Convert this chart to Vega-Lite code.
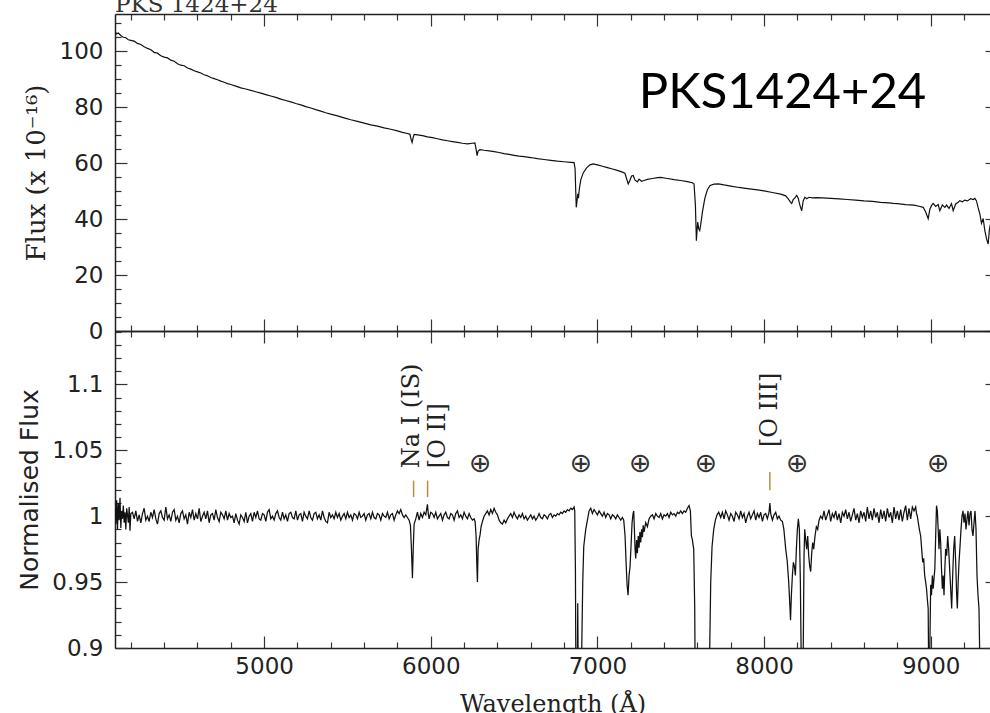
{
"$schema": "https://vega.github.io/schema/vega-lite/v6.json",
"padding": {"left": 17, "top": -6, "right": 0, "bottom": 0},
"autosize": {"type": "pad"},
"spacing": 0,
"bounds": "flush",
"background": "white",
"config": {
  "view": {"stroke": null},
  "concat": {"spacing": 0},
  "axis": {"grid": false, "domainColor": "#222", "domainWidth": 1.5, "tickColor": "#333", "tickWidth": 1.2, "labelFont": "DejaVu Sans", "labelFontSize": 23, "labelColor": "#222", "titleFont": "DejaVu Serif", "titleFontSize": 23, "titleFontWeight": "normal", "titleColor": "#222", "labelFlush": false, "labelOverlap": false, "labelBound": false}
},
"datasets": {
  "top": [
{"w":4105,"f":107.0},{"w":4115,"f":106.2},{"w":4125,"f":106.5},{"w":4140,"f":105.6},{"w":4155,"f":105.0},{"w":4170,"f":104.8},{"w":4185,"f":104.1},{"w":4200,"f":103.9},{"w":4220,"f":103.6},{"w":4240,"f":102.8},{"w":4260,"f":102.4},{"w":4280,"f":101.6},{"w":4300,"f":101.0},{"w":4320,"f":100.5},{"w":4340,"f":99.6},{"w":4360,"f":99.3},{"w":4380,"f":98.4},{"w":4400,"f":97.9},{"w":4420,"f":97.6},{"w":4440,"f":96.8},{"w":4460,"f":96.4},{"w":4480,"f":95.5},{"w":4500,"f":95.0},{"w":4520,"f":94.8},{"w":4540,"f":94.0},{"w":4560,"f":93.6},{"w":4580,"f":93.0},{"w":4600,"f":92.6},{"w":4620,"f":92.2},{"w":4640,"f":91.6},{"w":4660,"f":91.2},{"w":4680,"f":90.6},{"w":4700,"f":90.2},{"w":4720,"f":89.8},{"w":4740,"f":89.3},{"w":4760,"f":88.9},{"w":4780,"f":88.4},{"w":4800,"f":88.1},{"w":4830,"f":87.5},{"w":4860,"f":86.9},{"w":4890,"f":86.5},{"w":4920,"f":86.0},{"w":4950,"f":85.5},{"w":4980,"f":85.0},{"w":5010,"f":84.5},{"w":5040,"f":84.0},{"w":5070,"f":83.5},{"w":5100,"f":82.9},{"w":5130,"f":82.4},{"w":5160,"f":81.9},{"w":5190,"f":81.3},{"w":5220,"f":80.8},{"w":5250,"f":80.2},{"w":5280,"f":79.7},{"w":5310,"f":79.1},{"w":5340,"f":78.6},{"w":5370,"f":78.0},{"w":5400,"f":77.5},{"w":5440,"f":76.9},{"w":5480,"f":76.2},{"w":5520,"f":75.5},{"w":5560,"f":74.9},{"w":5600,"f":74.3},{"w":5640,"f":73.7},{"w":5680,"f":73.2},{"w":5720,"f":72.6},{"w":5760,"f":72.1},{"w":5800,"f":71.5},{"w":5830,"f":71.0},{"w":5860,"f":70.6},{"w":5875,"f":70.3},{"w":5882,"f":68.5},{"w":5888,"f":67.4},{"w":5894,"f":69.0},{"w":5900,"f":70.3},{"w":5920,"f":70.1},{"w":5950,"f":69.8},{"w":5980,"f":69.4},{"w":6010,"f":69.1},{"w":6040,"f":68.7},{"w":6070,"f":68.3},{"w":6100,"f":68.0},{"w":6130,"f":67.7},{"w":6160,"f":67.4},{"w":6190,"f":67.1},{"w":6220,"f":66.9},{"w":6250,"f":67.1},{"w":6265,"f":67.2},{"w":6272,"f":65.0},{"w":6278,"f":62.7},{"w":6284,"f":64.3},{"w":6295,"f":64.8},{"w":6320,"f":64.6},{"w":6350,"f":64.4},{"w":6380,"f":64.1},{"w":6410,"f":63.8},{"w":6440,"f":63.4},{"w":6470,"f":63.1},{"w":6500,"f":62.8},{"w":6530,"f":62.5},{"w":6560,"f":62.3},{"w":6600,"f":62.0},{"w":6640,"f":61.6},{"w":6680,"f":61.3},{"w":6720,"f":61.0},{"w":6760,"f":60.7},{"w":6800,"f":60.5},{"w":6840,"f":60.3},{"w":6860,"f":60.2},{"w":6866,"f":58.0},{"w":6870,"f":50.0},{"w":6873,"f":44.2},{"w":6877,"f":46.0},{"w":6882,"f":49.0},{"w":6886,"f":47.5},{"w":6892,"f":51.0},{"w":6900,"f":54.0},{"w":6915,"f":56.5},{"w":6935,"f":58.3},{"w":6955,"f":59.4},{"w":6975,"f":59.7},{"w":7000,"f":59.4},{"w":7030,"f":58.9},{"w":7060,"f":58.4},{"w":7090,"f":57.9},{"w":7120,"f":57.4},{"w":7150,"f":56.8},{"w":7165,"f":56.4},{"w":7175,"f":54.5},{"w":7185,"f":52.6},{"w":7195,"f":53.8},{"w":7205,"f":55.4},{"w":7215,"f":55.6},{"w":7225,"f":54.0},{"w":7240,"f":53.3},{"w":7250,"f":54.3},{"w":7265,"f":53.5},{"w":7280,"f":53.8},{"w":7300,"f":54.2},{"w":7330,"f":54.5},{"w":7360,"f":54.8},{"w":7380,"f":54.9},{"w":7420,"f":54.5},{"w":7460,"f":54.1},{"w":7500,"f":53.8},{"w":7540,"f":53.4},{"w":7570,"f":53.0},{"w":7580,"f":52.5},{"w":7588,"f":45.0},{"w":7594,"f":32.3},{"w":7598,"f":36.0},{"w":7602,"f":38.9},{"w":7608,"f":36.5},{"w":7614,"f":35.9},{"w":7620,"f":38.0},{"w":7630,"f":42.5},{"w":7645,"f":47.5},{"w":7660,"f":50.5},{"w":7676,"f":52.0},{"w":7700,"f":52.5},{"w":7726,"f":52.6},{"w":7760,"f":52.2},{"w":7800,"f":51.8},{"w":7850,"f":51.3},{"w":7900,"f":50.9},{"w":7950,"f":50.5},{"w":8000,"f":50.1},{"w":8050,"f":49.5},{"w":8100,"f":48.9},{"w":8130,"f":48.3},{"w":8145,"f":47.2},{"w":8160,"f":46.0},{"w":8166,"f":45.6},{"w":8175,"f":47.0},{"w":8185,"f":47.6},{"w":8196,"f":48.5},{"w":8205,"f":47.5},{"w":8215,"f":45.0},{"w":8226,"f":43.0},{"w":8235,"f":46.5},{"w":8245,"f":47.8},{"w":8256,"f":47.3},{"w":8270,"f":47.8},{"w":8290,"f":47.6},{"w":8316,"f":47.7},{"w":8350,"f":47.6},{"w":8400,"f":47.4},{"w":8450,"f":47.2},{"w":8500,"f":47.0},{"w":8550,"f":46.8},{"w":8600,"f":46.5},{"w":8650,"f":46.3},{"w":8700,"f":46.0},{"w":8750,"f":45.8},{"w":8776,"f":45.6},{"w":8800,"f":45.5},{"w":8850,"f":45.2},{"w":8900,"f":45.0},{"w":8930,"f":44.6},{"w":8955,"f":44.2},{"w":8970,"f":42.5},{"w":8985,"f":40.1},{"w":8995,"f":43.5},{"w":9005,"f":44.8},{"w":9015,"f":45.6},{"w":9030,"f":44.5},{"w":9045,"f":45.2},{"w":9055,"f":43.0},{"w":9070,"f":45.0},{"w":9085,"f":44.2},{"w":9095,"f":45.0},{"w":9110,"f":43.8},{"w":9125,"f":45.5},{"w":9135,"f":43.0},{"w":9150,"f":45.4},{"w":9165,"f":46.0},{"w":9175,"f":46.6},{"w":9190,"f":46.2},{"w":9205,"f":46.8},{"w":9220,"f":46.5},{"w":9240,"f":47.3},{"w":9255,"f":47.0},{"w":9265,"f":47.4},{"w":9275,"f":46.5},{"w":9285,"f":44.0},{"w":9295,"f":41.9},{"w":9305,"f":38.5},{"w":9315,"f":40.2},{"w":9325,"f":35.9},{"w":9335,"f":33.0},{"w":9345,"f":31.1},{"w":9352,"f":36.0},{"w":9358,"f":38.0}
  ],
  "bot": [
{"w":4105,"n":1.006},{"w":4110,"n":0.994},{"w":4115,"n":1.012},{"w":4120,"n":0.99},{"w":4125,"n":1.01},{"w":4130,"n":0.997},{"w":4135,"n":1.014},{"w":4140,"n":0.991},{"w":4145,"n":1.004},{"w":4150,"n":0.998},{"w":4155,"n":1.008},{"w":4160,"n":0.995},{"w":4165,"n":1.003},{"w":4170,"n":0.99},{"w":4175,"n":1.006},{"w":4180,"n":1.001},{"w":4185,"n":0.995},{"w":4190,"n":1.007},{"w":4195,"n":0.989},{"w":4200,"n":1.002},
{"w":4210,"n":1.003},{"w":4220,"n":0.998},{"w":4230,"n":1.004},{"w":4240,"n":0.996},{"w":4250,"n":1.001},{"w":4260,"n":0.995},{"w":4270,"n":1.002},{"w":4280,"n":1.006},{"w":4290,"n":0.997},{"w":4300,"n":1.0},{"w":4310,"n":0.996},{"w":4320,"n":1.003},{"w":4330,"n":0.999},{"w":4340,"n":1.005},{"w":4350,"n":0.998},{"w":4360,"n":0.994},{"w":4370,"n":1.002},{"w":4380,"n":1.004},{"w":4390,"n":0.999},{"w":4400,"n":0.997},{"w":4410,"n":1.007},{"w":4420,"n":0.998},{"w":4430,"n":1.001},{"w":4440,"n":0.996},{"w":4450,"n":1.003},{"w":4460,"n":1.005},{"w":4470,"n":0.997},{"w":4480,"n":1.0},{"w":4490,"n":0.995},{"w":4500,"n":1.002},{"w":4510,"n":1.004},{"w":4520,"n":0.998},{"w":4530,"n":1.001},{"w":4540,"n":0.994},{"w":4550,"n":1.003},{"w":4560,"n":0.999},{"w":4570,"n":1.005},{"w":4580,"n":0.997},{"w":4590,"n":1.002},{"w":4600,"n":0.998},{"w":4610,"n":1.006},{"w":4620,"n":0.996},{"w":4630,"n":1.0},{"w":4640,"n":1.003},{"w":4650,"n":0.998},{"w":4660,"n":1.004},{"w":4670,"n":0.995},{"w":4680,"n":1.001},{"w":4690,"n":1.002},{"w":4700,"n":0.997},{"w":4710,"n":1.005},{"w":4720,"n":0.999},{"w":4730,"n":0.996},{"w":4740,"n":1.003},{"w":4750,"n":1.001},{"w":4760,"n":0.998},{"w":4770,"n":1.004},{"w":4780,"n":0.997},{"w":4790,"n":1.002},{"w":4800,"n":0.999},
{"w":4810,"n":1.0},{"w":4820,"n":0.995},{"w":4830,"n":1.002},{"w":4840,"n":0.997},{"w":4850,"n":0.994},{"w":4860,"n":1.001},{"w":4870,"n":0.999},{"w":4880,"n":0.996},{"w":4890,"n":1.003},{"w":4900,"n":0.995},{"w":4910,"n":1.0},{"w":4920,"n":1.002},{"w":4930,"n":0.996},{"w":4940,"n":1.003},{"w":4950,"n":0.999},{"w":4960,"n":1.004},{"w":4970,"n":0.998},{"w":4980,"n":0.997},{"w":4990,"n":1.002},{"w":5000,"n":1.001},{"w":5010,"n":0.996},{"w":5020,"n":1.003},{"w":5030,"n":1.005},{"w":5040,"n":0.998},{"w":5050,"n":1.0},{"w":5060,"n":0.997},{"w":5070,"n":1.002},{"w":5080,"n":1.004},{"w":5090,"n":0.999},{"w":5100,"n":0.997},{"w":5110,"n":1.003},{"w":5120,"n":0.998},{"w":5130,"n":1.001},{"w":5140,"n":0.996},{"w":5150,"n":1.002},{"w":5160,"n":1.003},{"w":5170,"n":0.999},{"w":5180,"n":0.998},{"w":5190,"n":1.004},{"w":5200,"n":0.997},{"w":5210,"n":1.001},{"w":5220,"n":1.002},{"w":5230,"n":0.996},{"w":5240,"n":1.003},{"w":5250,"n":1.0},{"w":5260,"n":0.998},{"w":5270,"n":1.004},{"w":5280,"n":0.999},{"w":5290,"n":0.997},{"w":5300,"n":1.002},{"w":5310,"n":1.003},{"w":5320,"n":0.998},{"w":5330,"n":1.001},{"w":5340,"n":0.997},{"w":5350,"n":1.004},{"w":5360,"n":0.999},{"w":5370,"n":0.996},{"w":5380,"n":0.995},{"w":5390,"n":1.003},{"w":5400,"n":0.999},
{"w":5410,"n":1.001},{"w":5420,"n":0.998},{"w":5430,"n":1.003},{"w":5440,"n":0.999},{"w":5450,"n":1.002},{"w":5460,"n":0.997},{"w":5470,"n":1.0},{"w":5480,"n":1.002},{"w":5490,"n":0.998},{"w":5500,"n":1.003},{"w":5510,"n":0.999},{"w":5520,"n":1.001},{"w":5530,"n":0.997},{"w":5540,"n":1.002},{"w":5550,"n":1.001},{"w":5560,"n":0.998},{"w":5570,"n":1.003},{"w":5580,"n":0.999},{"w":5590,"n":1.0},{"w":5600,"n":1.002},{"w":5610,"n":0.997},{"w":5620,"n":1.001},{"w":5630,"n":1.002},{"w":5640,"n":0.998},{"w":5650,"n":1.003},{"w":5660,"n":0.999},{"w":5670,"n":0.998},{"w":5680,"n":1.002},{"w":5690,"n":1.001},{"w":5700,"n":0.997},{"w":5710,"n":1.002},{"w":5720,"n":1.0},{"w":5730,"n":0.999},{"w":5740,"n":1.003},{"w":5750,"n":0.998},{"w":5760,"n":1.001},{"w":5770,"n":1.002},{"w":5780,"n":0.997},{"w":5790,"n":1.001},{"w":5800,"n":1.004},{"w":5810,"n":1.002},{"w":5820,"n":1.005},{"w":5830,"n":1.001},{"w":5840,"n":0.999},{"w":5850,"n":1.001},
{"w":5860,"n":0.999},{"w":5870,"n":0.997},{"w":5878,"n":0.993},{"w":5884,"n":0.975},{"w":5890,"n":0.953},{"w":5895,"n":0.976},{"w":5900,"n":0.994},{"w":5910,"n":0.998},{"w":5920,"n":1.003},{"w":5930,"n":0.997},{"w":5940,"n":1.002},{"w":5950,"n":0.999},{"w":5960,"n":1.003},{"w":5970,"n":1.001},{"w":5980,"n":1.009},{"w":5985,"n":1.002},{"w":5990,"n":0.998},{"w":6000,"n":1.003},
{"w":6010,"n":1.002},{"w":6020,"n":0.999},{"w":6030,"n":1.003},{"w":6040,"n":0.998},{"w":6050,"n":1.0},{"w":6060,"n":1.002},{"w":6070,"n":0.997},{"w":6080,"n":1.001},{"w":6090,"n":1.003},{"w":6100,"n":0.999},{"w":6110,"n":0.998},{"w":6120,"n":1.002},{"w":6130,"n":1.001},{"w":6140,"n":0.997},{"w":6150,"n":1.002},{"w":6160,"n":1.004},{"w":6170,"n":0.999},{"w":6180,"n":1.001},{"w":6190,"n":0.998},{"w":6200,"n":1.003},{"w":6210,"n":1.0},{"w":6220,"n":0.998},{"w":6230,"n":1.002},{"w":6240,"n":0.999},{"w":6250,"n":0.997},{"w":6260,"n":0.998},
{"w":6266,"n":0.996},{"w":6272,"n":0.985},{"w":6276,"n":0.965},{"w":6280,"n":0.95},{"w":6284,"n":0.975},{"w":6290,"n":0.982},{"w":6296,"n":0.986},{"w":6302,"n":0.992},{"w":6310,"n":0.996},{"w":6320,"n":1.0},
{"w":6330,"n":1.002},{"w":6340,"n":1.004},{"w":6350,"n":1.001},{"w":6360,"n":1.005},{"w":6370,"n":1.002},{"w":6380,"n":1.006},{"w":6390,"n":1.003},{"w":6400,"n":1.001},{"w":6410,"n":0.997},{"w":6420,"n":0.995},{"w":6430,"n":0.994},{"w":6440,"n":0.997},{"w":6450,"n":0.995},{"w":6460,"n":0.998},{"w":6470,"n":1.0},{"w":6480,"n":1.002},{"w":6490,"n":0.999},{"w":6500,"n":1.003},{"w":6510,"n":1.0},{"w":6520,"n":0.998},{"w":6530,"n":1.001},{"w":6540,"n":0.999},{"w":6550,"n":1.002},{"w":6560,"n":0.998},{"w":6570,"n":1.0},{"w":6580,"n":0.997},{"w":6590,"n":0.999},{"w":6600,"n":1.001},{"w":6610,"n":0.998},{"w":6620,"n":1.0},{"w":6630,"n":0.997},{"w":6640,"n":0.999},{"w":6650,"n":1.002},{"w":6660,"n":0.999},{"w":6670,"n":0.998},{"w":6680,"n":1.001},{"w":6690,"n":1.0},{"w":6700,"n":0.998},{"w":6710,"n":1.001},{"w":6720,"n":1.002},{"w":6730,"n":0.999},{"w":6740,"n":1.001},{"w":6750,"n":1.0},{"w":6760,"n":1.002},{"w":6770,"n":1.001},{"w":6780,"n":1.003},{"w":6790,"n":1.002},{"w":6800,"n":1.004},{"w":6810,"n":1.003},{"w":6820,"n":1.005},{"w":6830,"n":1.004},{"w":6840,"n":1.006},{"w":6850,"n":1.005},{"w":6860,"n":1.007},
{"w":6864,"n":1.004},{"w":6868,"n":0.96},{"w":6872,"n":0.85},{"w":6878,"n":0.85},{"w":6882,"n":0.934},{"w":6886,"n":0.86},{"w":6892,"n":0.85},{"w":6900,"n":0.85},{"w":6906,"n":0.9},{"w":6912,"n":0.95},{"w":6918,"n":0.977},{"w":6930,"n":0.99},{"w":6940,"n":0.997},{"w":6950,"n":1.004},{"w":6960,"n":1.006},{"w":6970,"n":1.002},{"w":6980,"n":1.005},
{"w":6990,"n":1.003},{"w":7000,"n":1.001},{"w":7010,"n":1.004},{"w":7020,"n":1.002},{"w":7030,"n":1.0},{"w":7040,"n":1.003},{"w":7050,"n":0.999},{"w":7060,"n":1.002},{"w":7070,"n":1.001},{"w":7080,"n":0.998},{"w":7090,"n":1.001},{"w":7100,"n":1.0},{"w":7110,"n":0.998},{"w":7120,"n":1.001},{"w":7130,"n":0.999},{"w":7140,"n":0.997},{"w":7150,"n":0.999},
{"w":7158,"n":0.997},{"w":7166,"n":0.985},{"w":7172,"n":0.965},{"w":7178,"n":0.948},{"w":7184,"n":0.94},{"w":7190,"n":0.955},{"w":7196,"n":0.962},{"w":7202,"n":0.978},{"w":7208,"n":0.995},{"w":7214,"n":1.002},{"w":7218,"n":1.004},{"w":7222,"n":0.99},{"w":7226,"n":0.975},{"w":7230,"n":0.968},{"w":7235,"n":0.982},{"w":7240,"n":0.972},{"w":7245,"n":0.985},{"w":7250,"n":0.976},{"w":7255,"n":0.988},{"w":7260,"n":0.98},{"w":7265,"n":0.99},{"w":7270,"n":0.984},{"w":7275,"n":0.993},{"w":7280,"n":0.988},{"w":7290,"n":0.995},{"w":7300,"n":0.992},{"w":7310,"n":0.998},{"w":7320,"n":1.0},
{"w":7330,"n":1.001},{"w":7340,"n":0.998},{"w":7350,"n":1.002},{"w":7360,"n":1.0},{"w":7370,"n":0.999},{"w":7380,"n":1.002},{"w":7390,"n":0.998},{"w":7400,"n":1.001},{"w":7410,"n":1.0},{"w":7420,"n":1.002},{"w":7430,"n":0.999},{"w":7440,"n":1.003},{"w":7450,"n":1.001},{"w":7460,"n":1.002},{"w":7470,"n":1.0},{"w":7480,"n":1.003},{"w":7490,"n":1.002},{"w":7500,"n":1.004},{"w":7510,"n":1.002},{"w":7520,"n":1.004},{"w":7530,"n":1.003},{"w":7540,"n":1.006},{"w":7550,"n":1.008},{"w":7558,"n":1.004},
{"w":7564,"n":0.985},{"w":7570,"n":0.982},{"w":7578,"n":0.975},{"w":7584,"n":0.93},{"w":7588,"n":0.85},{"w":7668,"n":0.85},{"w":7674,"n":0.9},{"w":7680,"n":0.95},{"w":7688,"n":0.977},{"w":7698,"n":0.99},{"w":7708,"n":0.997},{"w":7718,"n":1.001},{"w":7728,"n":1.003},
{"w":7740,"n":0.999},{"w":7750,"n":1.003},{"w":7760,"n":0.998},{"w":7770,"n":1.004},{"w":7780,"n":1.001},{"w":7790,"n":0.997},{"w":7800,"n":1.002},{"w":7810,"n":1.0},{"w":7820,"n":0.996},{"w":7830,"n":1.003},{"w":7840,"n":1.001},{"w":7850,"n":0.998},{"w":7860,"n":1.004},{"w":7870,"n":0.999},{"w":7880,"n":1.002},{"w":7890,"n":0.995},{"w":7900,"n":1.0},{"w":7910,"n":1.003},{"w":7920,"n":0.998},{"w":7930,"n":1.001},{"w":7940,"n":1.004},{"w":7950,"n":0.997},{"w":7960,"n":1.002},{"w":7970,"n":0.999},{"w":7980,"n":1.003},{"w":7990,"n":0.996},{"w":8000,"n":1.001},{"w":8010,"n":1.002},{"w":8020,"n":0.998},{"w":8030,"n":1.003},{"w":8035,"n":1.01},{"w":8040,"n":1.002},{"w":8050,"n":0.997},{"w":8060,"n":1.001},{"w":8070,"n":1.003},{"w":8080,"n":0.998},{"w":8090,"n":1.0},{"w":8100,"n":0.997},
{"w":8110,"n":0.996},{"w":8119,"n":0.99},{"w":8130,"n":0.975},{"w":8139,"n":0.966},{"w":8148,"n":0.95},{"w":8154,"n":0.935},{"w":8159,"n":0.921},{"w":8164,"n":0.94},{"w":8170,"n":0.955},{"w":8176,"n":0.965},{"w":8182,"n":0.962},{"w":8188,"n":0.955},{"w":8194,"n":0.975},{"w":8200,"n":0.99},{"w":8206,"n":0.998},{"w":8212,"n":0.99},{"w":8218,"n":0.95},{"w":8224,"n":0.88},{"w":8229,"n":0.85},{"w":8234,"n":0.88},{"w":8240,"n":0.97},{"w":8244,"n":0.99},{"w":8250,"n":0.982},{"w":8256,"n":0.975},{"w":8262,"n":0.985},{"w":8268,"n":0.97},{"w":8274,"n":0.962},{"w":8280,"n":0.958},{"w":8286,"n":0.972},{"w":8292,"n":0.98},{"w":8298,"n":0.975},{"w":8306,"n":0.985},{"w":8314,"n":0.992},{"w":8322,"n":0.99},{"w":8330,"n":0.997},{"w":8340,"n":1.0},
{"w":8350,"n":0.998},{"w":8360,"n":1.004},{"w":8370,"n":0.997},{"w":8380,"n":1.001},{"w":8390,"n":1.005},{"w":8400,"n":0.996},{"w":8410,"n":1.002},{"w":8420,"n":0.999},{"w":8430,"n":1.004},{"w":8440,"n":0.997},{"w":8450,"n":1.002},{"w":8460,"n":0.995},{"w":8470,"n":1.003},{"w":8480,"n":1.0},{"w":8490,"n":1.005},{"w":8500,"n":0.998},{"w":8510,"n":1.003},{"w":8520,"n":0.996},{"w":8530,"n":1.001},{"w":8540,"n":1.006},{"w":8550,"n":0.997},{"w":8560,"n":1.002},{"w":8570,"n":0.995},{"w":8580,"n":1.004},{"w":8590,"n":0.999},{"w":8600,"n":1.003},{"w":8610,"n":0.996},{"w":8620,"n":1.007},{"w":8630,"n":0.998},{"w":8640,"n":1.004},{"w":8650,"n":0.997},{"w":8660,"n":1.006},{"w":8670,"n":0.999},{"w":8680,"n":1.003},{"w":8690,"n":0.995},{"w":8700,"n":1.005},{"w":8710,"n":0.998},{"w":8720,"n":1.004},{"w":8730,"n":0.996},{"w":8740,"n":1.006},{"w":8750,"n":0.999},{"w":8760,"n":1.003},{"w":8770,"n":0.995},{"w":8780,"n":1.007},{"w":8790,"n":0.998},{"w":8800,"n":1.004},{"w":8810,"n":0.997},{"w":8820,"n":1.005},{"w":8830,"n":0.996},{"w":8840,"n":1.003},{"w":8850,"n":1.008},{"w":8860,"n":0.997},{"w":8870,"n":1.006},{"w":8880,"n":0.998},{"w":8890,"n":1.007},{"w":8900,"n":1.004},{"w":8910,"n":1.007},{"w":8915,"n":1.002},
{"w":8920,"n":1.0},{"w":8926,"n":0.995},{"w":8932,"n":0.99},{"w":8940,"n":0.985},{"w":8946,"n":0.975},{"w":8952,"n":0.965},{"w":8958,"n":0.968},{"w":8964,"n":0.955},{"w":8970,"n":0.95},{"w":8975,"n":0.945},{"w":8980,"n":0.937},{"w":8985,"n":0.93},{"w":8990,"n":0.85},{"w":8995,"n":0.9},{"w":9000,"n":0.948},{"w":9005,"n":0.94},{"w":9010,"n":0.955},{"w":9015,"n":0.945},{"w":9020,"n":0.953},{"w":9025,"n":0.96},{"w":9030,"n":0.985},{"w":9035,"n":1.008},{"w":9040,"n":1.004},{"w":9045,"n":0.99},{"w":9050,"n":0.975},{"w":9055,"n":0.99},{"w":9060,"n":0.98},{"w":9065,"n":0.96},{"w":9070,"n":0.945},{"w":9075,"n":0.955},{"w":9080,"n":0.94},{"w":9085,"n":0.96},{"w":9090,"n":0.975},{"w":9096,"n":0.97},{"w":9102,"n":0.985},{"w":9108,"n":0.975},{"w":9114,"n":0.96},{"w":9120,"n":0.945},{"w":9126,"n":0.93},{"w":9132,"n":0.955},{"w":9138,"n":0.975},{"w":9144,"n":0.985},{"w":9150,"n":0.965},{"w":9156,"n":0.94},{"w":9160,"n":0.93},{"w":9165,"n":0.95},{"w":9170,"n":0.965},{"w":9176,"n":0.977},{"w":9182,"n":0.99},{"w":9188,"n":1.0},{"w":9194,"n":1.004},{"w":9200,"n":0.995},{"w":9206,"n":1.002},{"w":9212,"n":0.99},{"w":9218,"n":0.998},{"w":9224,"n":1.004},{"w":9230,"n":0.993},{"w":9236,"n":1.002},{"w":9242,"n":1.004},{"w":9248,"n":0.99},{"w":9254,"n":0.985},{"w":9260,"n":0.995},{"w":9266,"n":1.004},{"w":9272,"n":0.99},{"w":9278,"n":0.955},{"w":9284,"n":0.94},{"w":9290,"n":0.93},{"w":9296,"n":0.88},{"w":9300,"n":0.85},{"w":9356,"n":0.85}
  ],
  "oplus": [{"w":6297,"n":1.0395,"t":"⊕"},{"w":6902,"n":1.0395,"t":"⊕"},{"w":7258,"n":1.0395,"t":"⊕"},{"w":7652,"n":1.0395,"t":"⊕"},{"w":8200,"n":1.0395,"t":"⊕"},{"w":9046,"n":1.0395,"t":"⊕"}],
  "marks": [{"w":5897,"a":1.0145,"b":1.027},{"w":5981,"a":1.0145,"b":1.027},{"w":8035,"a":1.0197,"b":1.0336}],
  "labs": [{"w":5888,"n":1.0364,"t":"Na I (IS)"},{"w":6045,"n":1.0364,"t":"[O II]"},{"w":8036,"n":1.0524,"t":"[O III]"}],
  "name": [{"w":8111,"f":79.8,"t":"PKS1424+24"}]
},
"vconcat": [
  {
    "width": 875, "height": 317,
    "title": {"text": "PKS 1424+24", "anchor": "start", "frame": "group", "offset": -23, "baseline": "alphabetic", "font": "DejaVu Serif", "fontSize": 23, "fontWeight": "normal", "color": "#333"},
    "resolve": {"axis": {"x": "independent", "y": "independent"}},
    "layer": [
      {
        "data": {"name": "top"},
        "mark": {"type": "line", "color": "#111", "strokeWidth": 1.2, "clip": true},
        "encoding": {
          "x": {"field": "w", "type": "quantitative", "scale": {"domain": [4105, 9356], "nice": false, "zero": false},
                "axis": {"orient": "bottom", "title": null, "labels": false, "values": [4200,4400,4600,4800,5000,5200,5400,5600,5800,6000,6200,6400,6600,6800,7000,7200,7400,7600,7800,8000,8200,8400,8600,8800,9000,9200],
                         "tickSize": {"condition": {"test": "datum.value % 1000 === 0", "value": -12}, "value": -6}}},
          "y": {"field": "f", "type": "quantitative", "scale": {"domain": [0, 113.3], "nice": false},
                "axis": {"orient": "left", "title": "Flux (x 10⁻¹⁶)", "titleFontSize": 26, "titlePadding": 10, "labelPadding": 24,
                         "values": [0,5,10,15,20,25,30,35,40,45,50,55,60,65,70,75,80,85,90,95,100,105,110],
                         "labelExpr": "datum.value % 20 === 0 ? toString(datum.value) : ''",
                         "tickSize": {"condition": {"test": "datum.value % 20 === 0", "value": -12}, "value": -6}}}
        }
      },
      {
        "data": {"name": "name"},
        "mark": {"type": "text", "font": "Lato", "fontSize": 49, "color": "#000", "align": "center", "baseline": "alphabetic"},
        "encoding": {
          "x": {"field": "w", "type": "quantitative",
                "axis": {"orient": "top", "title": null, "labels": false, "values": [4200,4400,4600,4800,5000,5200,5400,5600,5800,6000,6200,6400,6600,6800,7000,7200,7400,7600,7800,8000,8200,8400,8600,8800,9000,9200],
                         "tickSize": {"condition": {"test": "datum.value % 1000 === 0", "value": -12}, "value": -6}}},
          "y": {"field": "f", "type": "quantitative",
                "axis": {"orient": "right", "title": null, "labels": false, "domain": false, "values": [0,20,40,60,80,100], "tickSize": -5}},
          "text": {"field": "t"}
        }
      }
    ]
  },
  {
    "width": 875, "height": 317,
    "resolve": {"axis": {"x": "independent", "y": "independent"}},
    "layer": [
      {
        "data": {"name": "bot"},
        "mark": {"type": "line", "color": "#111", "strokeWidth": 1.25, "clip": true},
        "encoding": {
          "x": {"field": "w", "type": "quantitative", "scale": {"domain": [4105, 9356], "nice": false, "zero": false},
                "axis": {"orient": "bottom", "title": "Wavelength (Å)", "titleFontSize": 24, "titlePadding": 8, "labelPadding": 19,
                         "values": [4200,4400,4600,4800,5000,5200,5400,5600,5800,6000,6200,6400,6600,6800,7000,7200,7400,7600,7800,8000,8200,8400,8600,8800,9000,9200],
                         "labelExpr": "datum.value % 1000 === 0 ? toString(datum.value) : ''",
                         "tickSize": {"condition": {"test": "datum.value % 1000 === 0", "value": -12}, "value": -6}}},
          "y": {"field": "n", "type": "quantitative", "scale": {"domain": [0.9, 1.1405], "nice": false, "zero": false},
                "axis": {"orient": "left", "title": "Normalised Flux", "titleFont": "DejaVu Sans", "titleFontSize": 25, "titlePadding": 9, "labelPadding": 24,
                         "values": [0.9,0.91,0.92,0.93,0.94,0.95,0.96,0.97,0.98,0.99,1,1.01,1.02,1.03,1.04,1.05,1.06,1.07,1.08,1.09,1.1,1.11,1.12,1.13,1.14],
                         "labelExpr": "indexof([0.9,0.95,1,1.05,1.1], datum.value) >= 0 ? toString(datum.value) : ''",
                         "tickSize": {"condition": {"test": "indexof([0.9,0.95,1,1.05,1.1], datum.value) >= 0", "value": -12}, "value": -6}}}
        }
      },
      {
        "data": {"name": "oplus"},
        "mark": {"type": "text", "font": "DejaVu Sans", "fontSize": 27, "color": "#333", "align": "center", "baseline": "middle"},
        "encoding": {
          "x": {"field": "w", "type": "quantitative",
                "axis": {"orient": "top", "title": null, "labels": false, "values": [4200,4400,4600,4800,5000,5200,5400,5600,5800,6000,6200,6400,6600,6800,7000,7200,7400,7600,7800,8000,8200,8400,8600,8800,9000,9200],
                         "tickSize": {"condition": {"test": "datum.value % 1000 === 0", "value": -12}, "value": -6}}},
          "y": {"field": "n", "type": "quantitative",
                "axis": {"orient": "right", "title": null, "labels": false, "domain": false, "values": [0.9,0.95,1,1.05,1.1], "tickSize": -5}},
          "text": {"field": "t"}
        }
      },
      {
        "data": {"name": "marks"},
        "mark": {"type": "rule", "color": "#c08a3e", "strokeWidth": 1.5},
        "encoding": {
          "x": {"field": "w", "type": "quantitative", "axis": null},
          "y": {"field": "a", "type": "quantitative", "axis": null},
          "y2": {"field": "b"}
        }
      },
      {
        "data": {"name": "labs"},
        "mark": {"type": "text", "font": "DejaVu Serif", "fontSize": 24, "color": "#222", "angle": 270, "align": "left", "baseline": "middle"},
        "encoding": {
          "x": {"field": "w", "type": "quantitative", "axis": null},
          "y": {"field": "n", "type": "quantitative", "axis": null},
          "text": {"field": "t"}
        }
      }
    ]
  }
]
}
